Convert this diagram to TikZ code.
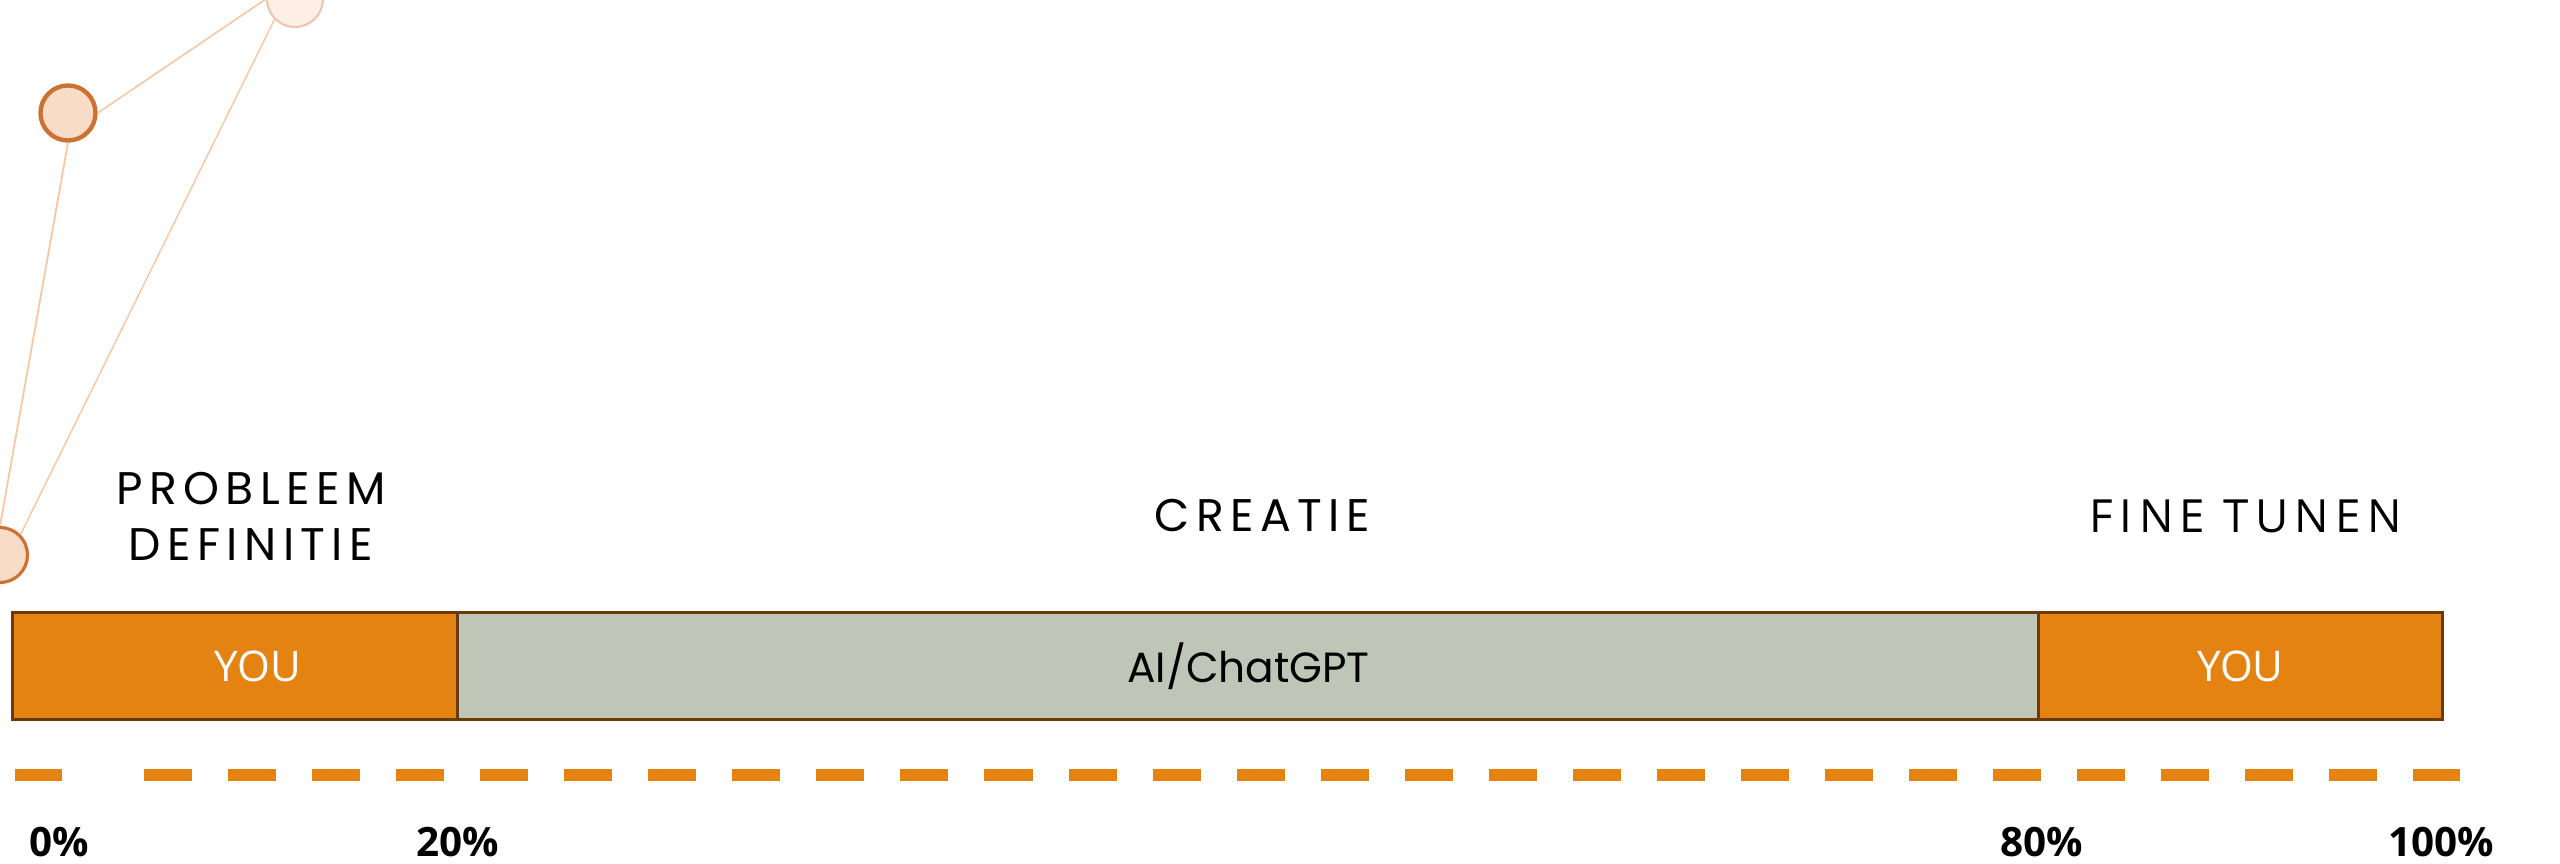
\documentclass[tikz,border=0pt]{standalone}
\usepackage{fontspec}
\newfontfamily\popfont{Poppins}
\newfontfamily\popspaced[LetterSpace=14]{Poppins}
\newfontfamily\osfont{Open Sans}
\newfontfamily\osspaced[LetterSpace=14]{Open Sans}
\definecolor{barorange}{HTML}{E58312}
\definecolor{bargrey}{HTML}{BFC5B7}
\definecolor{barline}{HTML}{6B3A0A}
\definecolor{nodefill}{HTML}{F9DCC8}
\definecolor{nodeline}{HTML}{CB7233}
\definecolor{palefill}{HTML}{FDEFE6}
\definecolor{paleline}{HTML}{EBC7B1}
\definecolor{linkline}{HTML}{F8C6A2}
\begin{document}
\begin{tikzpicture}[x=0.01cm,y=-0.01cm,
  barbox/.style={draw=barline, line width=0.85pt, minimum height=1.07cm, inner sep=0pt, outer sep=0pt, anchor=center},
  youbox/.style={barbox, fill=barorange, text=white, font=\osfont\fontsize{12}{14}\selectfont},
  youtext/.style={anchor=center, inner sep=0pt, text=white, font=\osfont\fontsize{12}{14}\selectfont},
  aibox/.style={barbox, fill=bargrey, text=black, font=\popfont\fontsize{12}{14}\selectfont},
  header/.style={inner sep=0pt, anchor=center, text=black, align=center},
  pct/.style={inner sep=0pt, anchor=center, text=black, font=\osfont\bfseries\fontsize{11.5}{13}\selectfont},
  dot/.style={circle, draw=nodeline, fill=nodefill, inner sep=0pt, minimum size=0.55cm},
  palefdot/.style={circle, draw=paleline, fill=palefill, inner sep=0pt, minimum size=0.56cm, line width=0.6pt},
  link/.style={draw=linkline, line width=0.45pt},
  scaledash/.style={barorange, line width=3.41pt}
]
\useasboundingbox (0,0) rectangle (2560,864);

% circles
\node[palefdot] (A) at (295,-1) {};
\node[dot, line width=1.25pt] (B) at (68,113) {};
\node[dot, line width=0.9pt] (C) at (0,555) {};
\draw[link] (B.east) -- (A.west);
\draw[link, line width=0.5pt] (B.south) -- (C.north);
\draw[link, line width=0.4pt] (A.south west) -- (C.north east);

% headers
\node[header, font=\popspaced\fontsize{13}{15.9}\selectfont] (h1) at (251,516) {PROBLEEM\\DEFINITIE};
\node[header, font=\popspaced\fontsize{13}{15.9}\selectfont] (h2) at (1262,516) {CREATIE};
\node[header, font=\osspaced\fontsize{13}{15.9}\selectfont] (h3) at (2246,516) {FINE TUNEN};

% bars
\node[youbox, minimum width=4.45cm] (you1) at (235.5,666) {};
\node[youtext] (you1t) at (258,666) {YOU};
\node[aibox, minimum width=15.81cm] (ai) at (1248.5,666) {AI/ChatGPT};
\node[youbox, minimum width=4.03cm] (you2) at (2240.5,666) {YOU};

% dashed scale
\draw[scaledash] (15,775) -- (62,775);
\draw[scaledash, dash pattern=on 0.48cm off 0.36cm] (144,775) -- (2460,775);

% percent labels
\node[pct] (p0) at (59,842) {0\%};
\node[pct] (p20) at (458,842) {20\%};
\node[pct] (p80) at (2042,842) {80\%};
\node[pct] (p100) at (2441,842) {100\%};
\end{tikzpicture}
\end{document}
